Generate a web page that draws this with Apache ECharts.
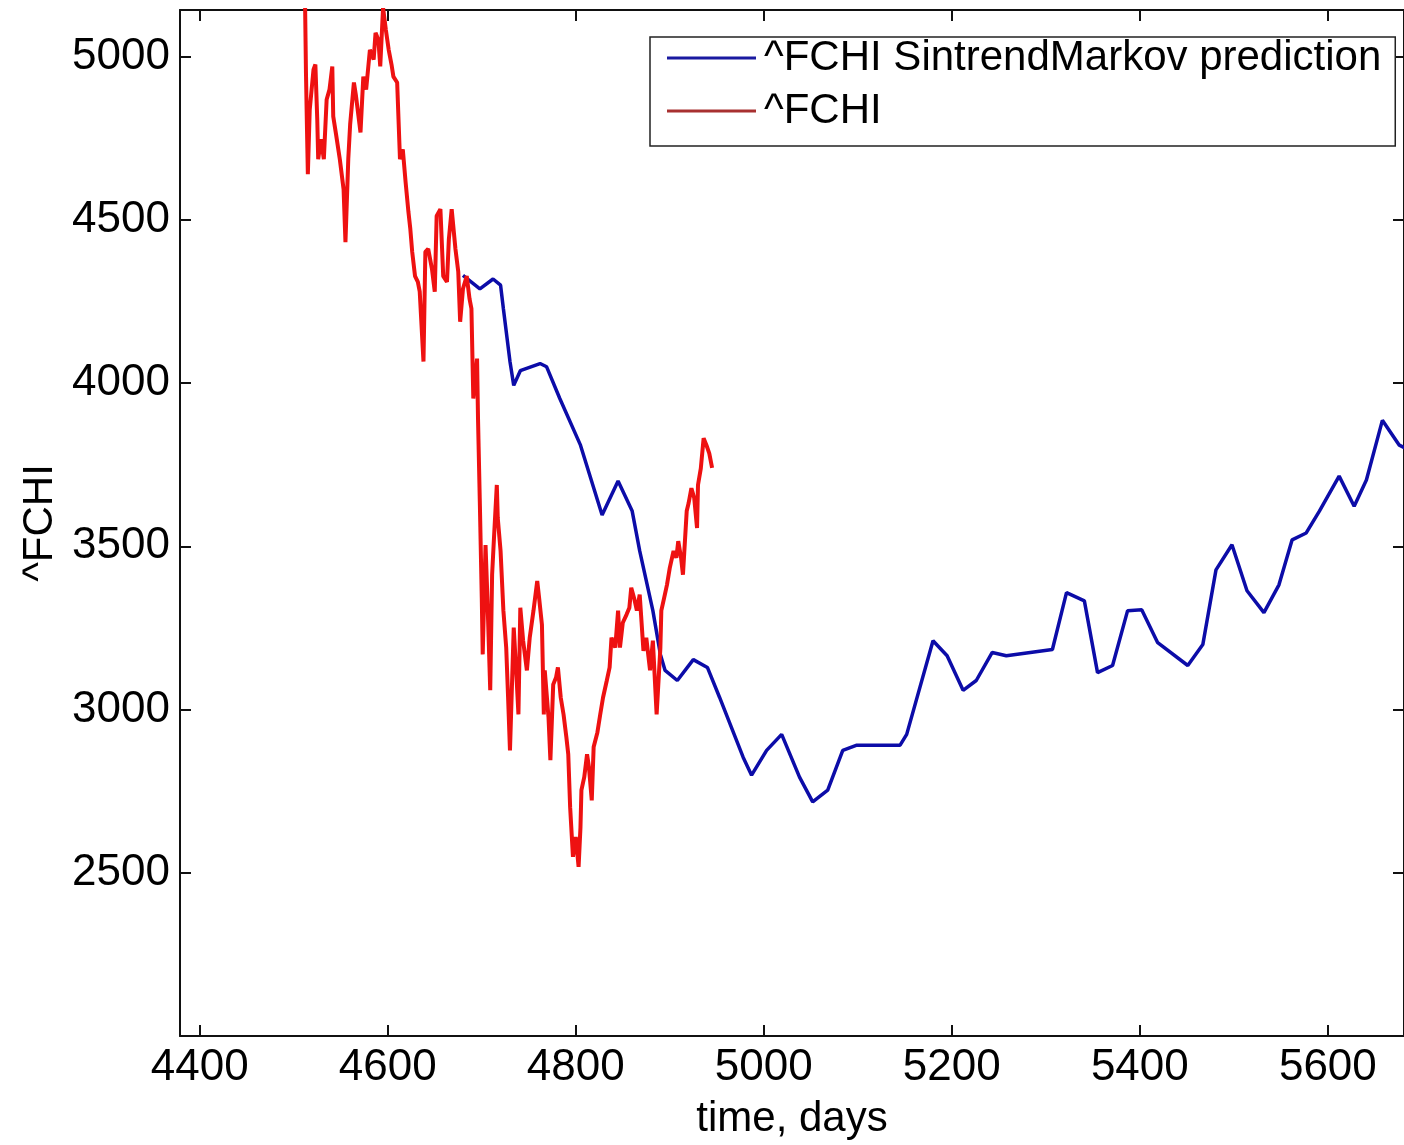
<!DOCTYPE html>
<html>
<head>
<meta charset="utf-8">
<script src="https://cdn.jsdelivr.net/npm/echarts@6/dist/echarts.min.js"></script>
<style>
html,body{margin:0;padding:0;background:#fff;}
#chart{width:1404px;height:1145px;}
</style>
</head>
<body>
<div id="chart"></div>
<script>
// ^FCHI actual (red)
const redDays = [4512,4513,4514,4515,4517,4521,4523,4525,4526,4529,4532,4535,4538,4541,4542,4545,4549,4553,4555,4558,4560,4564,4566,4571,4574,4577,4581,4585,4587,4590,4592,4595,4598,4601,4604,4606,4610,4613,4616,4619,4622,4624,4626,4629,4632,4634,4638,4640,4643,4647,4650,4652,4656,4659,4663,4665,4668,4672,4675,4677,4680,4684,4687,4689,4691,4695,4696,4698,4700,4701,4704,4706,4709,4711,4713,4716,4717,4720,4723,4726,4728,4730,4734,4737,4739,4741,4744,4748,4751,4755,4759,4761,4764,4766,4767,4771,4773,4776,4779,4781,4784,4787,4790,4792,4794,4797,4800,4803,4805,4806,4809,4812,4814,4817,4819,4823,4826,4829,4833,4836,4838,4842,4845,4847,4850,4854,4857,4859,4862,4865,4868,4872,4875,4879,4882,4886,4890,4891,4894,4897,4900,4904,4907,4909,4912,4914,4918,4920,4923,4926,4929,4930,4933,4936,4939,4942,4945];
const redValues = [5170,4950,4790,4640,4838,4960,4976,4808,4686,4747,4686,4869,4899,4970,4817,4762,4686,4594,4432,4686,4793,4921,4884,4768,4939,4899,5021,4991,5073,5052,4970,5150,5082,5021,4976,4939,4921,4686,4716,4615,4524,4472,4402,4328,4310,4280,4066,4402,4411,4350,4280,4512,4533,4328,4310,4441,4533,4411,4341,4188,4289,4328,4258,4228,3953,4075,3892,3626,3342,3169,3504,3342,3059,3413,3526,3688,3587,3486,3303,3190,3037,2875,3251,3098,2985,3312,3211,3120,3220,3303,3394,3342,3260,2985,3120,2976,2845,3077,3098,3129,3037,2985,2915,2863,2701,2549,2610,2518,2640,2753,2793,2863,2824,2722,2885,2930,2985,3037,3089,3129,3220,3190,3303,3190,3266,3291,3312,3373,3342,3303,3352,3180,3220,3120,3211,2985,3190,3303,3342,3382,3434,3486,3465,3516,3465,3413,3608,3632,3678,3648,3556,3688,3739,3831,3810,3785,3740];

// ^FCHI SintrendMarkov prediction (blue)
const blueDays = [4680,4698,4712,4720,4723,4730,4734,4741,4762,4769,4783,4805,4828,4845,4860,4868,4882,4890,4895,4908,4925,4940,4953,4978,4987,5003,5019,5038,5052,5068,5084,5099,5145,5152,5180,5195,5212,5226,5243,5258,5307,5322,5341,5355,5371,5387,5402,5419,5451,5467,5481,5498,5514,5532,5548,5562,5577,5591,5612,5628,5641,5658,5676,5690];
const blueValues = [4330,4289,4319,4300,4228,4066,3993,4038,4060,4050,3953,3810,3596,3700,3608,3486,3303,3169,3120,3089,3153,3129,3037,2854,2799,2875,2924,2793,2717,2753,2875,2891,2891,2924,3211,3165,3059,3089,3175,3165,3184,3358,3333,3113,3135,3303,3306,3205,3135,3199,3428,3505,3364,3297,3382,3520,3541,3608,3715,3623,3703,3886,3810,3790];

const xTicks = [4400,4600,4800,5000,5200,5400,5600];
const yTicks = [2500,3000,3500,4000,4500,5000];

const zip = (a, b) => a.map((v, i) => [v, b[i]]);
const FONT = '"Liberation Sans", Arial, Helvetica, sans-serif';
const X_MIN = 4379, X_MAX = 5681, Y_MIN = 2000, Y_MAX = 5143;
const plain = v => String(v);

const chart = echarts.init(document.getElementById('chart'), null, {renderer: 'canvas'});
const axisLine = {show: true, lineStyle: {color: '#111', width: 2}};
const tick = vals => ({show: true, inside: true, length: 11, lineStyle: {color: '#111', width: 2}, customValues: vals});
chart.setOption({
  animation: false,
  backgroundColor: '#fff',
  textStyle: {fontFamily: FONT},
  grid: {left: 180, right: -1, top: 10, bottom: 105, containLabel: false},
  legend: {
    orient: 'vertical', left: 650, top: 37,
    padding: [0, 14, 14, 17], itemGap: 11,
    itemWidth: 89, itemHeight: 3, icon: 'rect',
    backgroundColor: '#fff', borderColor: '#222', borderWidth: 1.5,
    textStyle: {fontFamily: FONT, fontSize: 42, color: '#000', padding: [0, 0, 0, 3]},
    data: [
      {name: '^FCHI SintrendMarkov prediction', itemStyle: {color: '#1a1aa0'}},
      {name: '^FCHI', itemStyle: {color: '#a83030'}}
    ]
  },
  xAxis: [{
    type: 'value', min: X_MIN, max: X_MAX, position: 'bottom',
    name: 'time, days', nameLocation: 'middle', nameGap: 62,
    nameTextStyle: {fontFamily: FONT, fontSize: 42, color: '#000'},
    axisLine: axisLine,
    axisTick: tick(xTicks),
    axisLabel: {show: true, fontFamily: FONT, fontSize: 44, color: '#000', margin: 10, customValues: xTicks, formatter: plain},
    splitLine: {show: false}
  }, {
    type: 'value', min: X_MIN, max: X_MAX, position: 'top',
    axisLine: axisLine,
    axisTick: tick(xTicks),
    axisLabel: {show: false},
    splitLine: {show: false}
  }],
  yAxis: [{
    type: 'value', min: Y_MIN, max: Y_MAX, position: 'left',
    name: '^FCHI', nameLocation: 'middle', nameGap: 118,
    nameTextStyle: {fontFamily: FONT, fontSize: 42, color: '#000'},
    axisLine: axisLine,
    axisTick: tick(yTicks),
    axisLabel: {show: true, fontFamily: FONT, fontSize: 44, color: '#000', margin: 10, customValues: yTicks, formatter: plain},
    splitLine: {show: false}
  }, {
    type: 'value', min: Y_MIN, max: Y_MAX, position: 'right',
    axisLine: axisLine,
    axisTick: tick(yTicks),
    axisLabel: {show: false},
    splitLine: {show: false}
  }],
  series: [{
    name: '^FCHI SintrendMarkov prediction', type: 'line',
    xAxisIndex: 0, yAxisIndex: 0,
    data: zip(blueDays, blueValues),
    showSymbol: false, symbol: 'none', clip: true,
    lineStyle: {color: '#0c0ca8', width: 3.5},
    itemStyle: {color: '#0c0ca8'},
    z: 2
  }, {
    name: '^FCHI', type: 'line',
    xAxisIndex: 0, yAxisIndex: 0,
    data: zip(redDays, redValues),
    showSymbol: false, symbol: 'none', clip: true,
    lineStyle: {color: '#ee1111', width: 4},
    itemStyle: {color: '#ee1111'},
    z: 3
  }]
});
</script>
</body>
</html>
